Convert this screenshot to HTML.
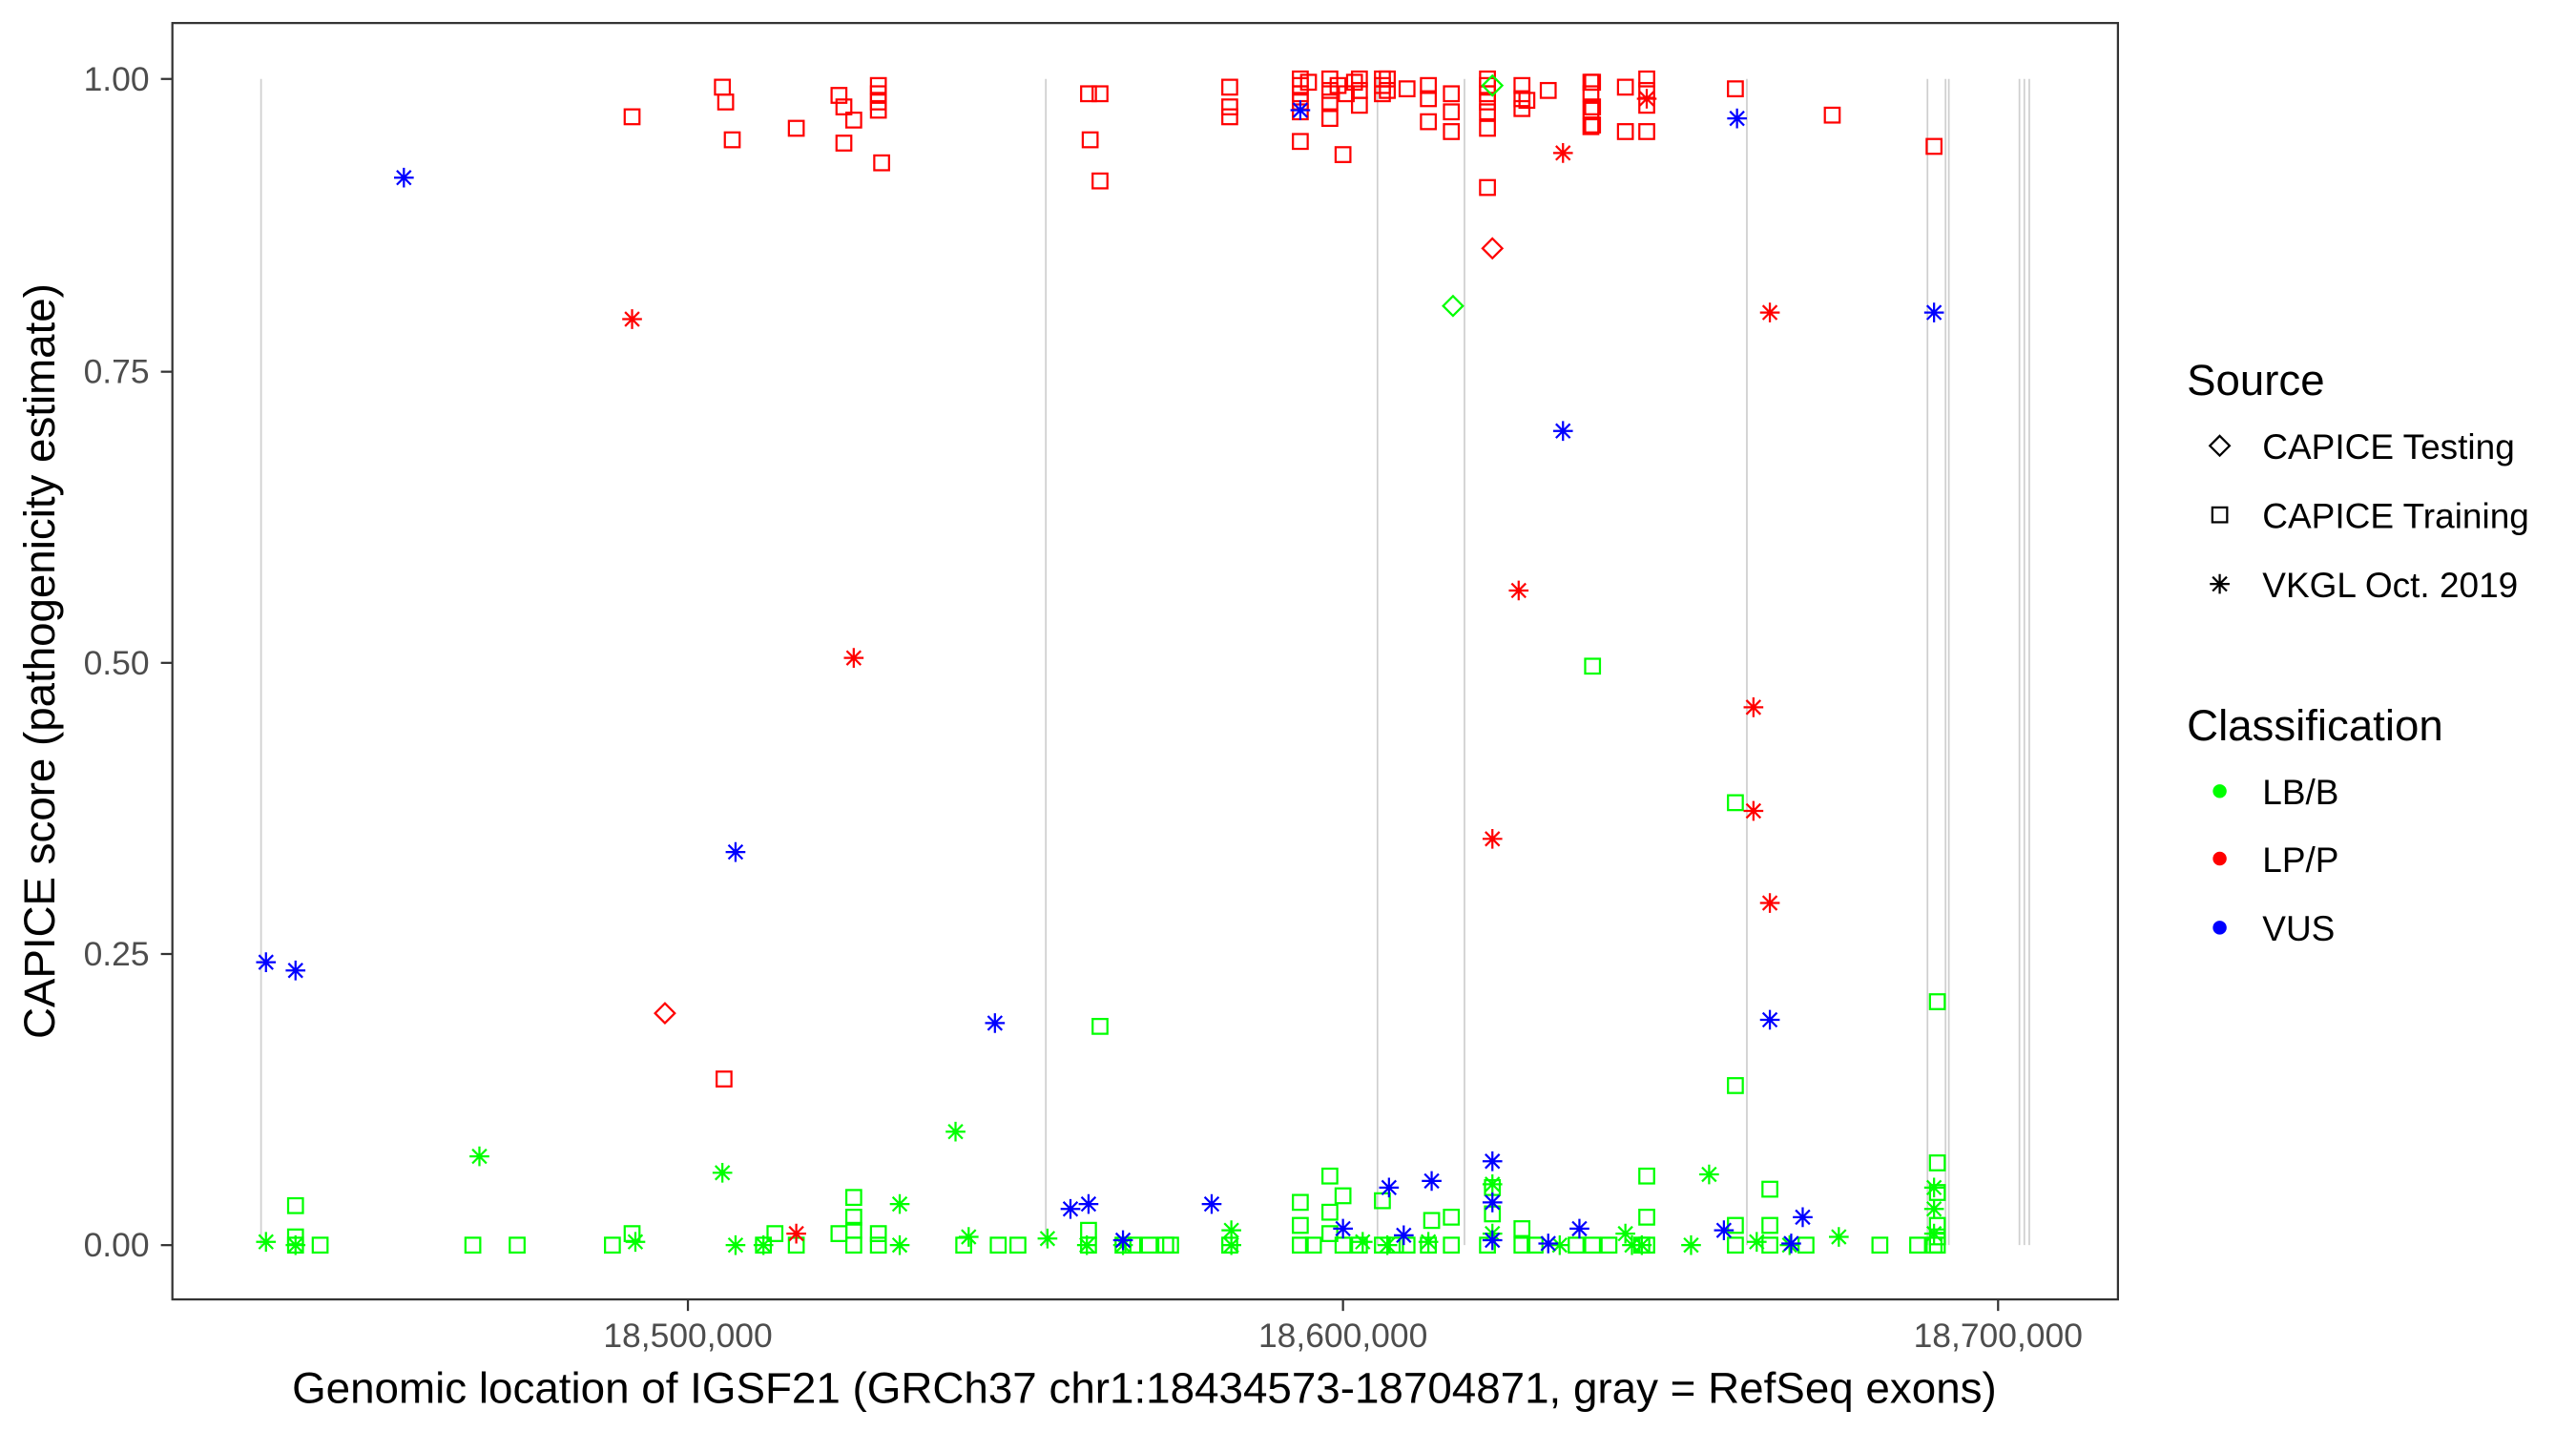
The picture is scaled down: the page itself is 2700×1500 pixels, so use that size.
<!DOCTYPE html>
<html><head><meta charset="utf-8"><style>html,body{margin:0;padding:0;background:#fff}svg{display:block}</style></head>
<body>
<svg id="s" width="2700" height="1500" viewBox="0 0 1569 870" preserveAspectRatio="none" xmlns="http://www.w3.org/2000/svg" font-family="Liberation Sans, Arial, sans-serif">
<rect x="0" y="0" width="1569" height="870" fill="#fff"/>
<g id="ex" stroke="#cfcfcf" stroke-width="1"></g>
<g id="pts" fill="none" stroke-width="1.3"></g>
<rect x="105" y="14" width="1185" height="776" fill="none" stroke="#333" stroke-width="1.3"/>
<g stroke="#333" stroke-width="1.3">
<line x1="98" y1="48" x2="105" y2="48"/><line x1="98" y1="226" x2="105" y2="226"/><line x1="98" y1="403" x2="105" y2="403"/><line x1="98" y1="580" x2="105" y2="580"/><line x1="98" y1="757" x2="105" y2="757"/>
<line x1="419" y1="790" x2="419" y2="797"/><line x1="818" y1="790" x2="818" y2="797"/><line x1="1217" y1="790" x2="1217" y2="797"/>
</g>
<g fill="#4d4d4d" font-size="20.6" text-anchor="end">
<text x="91" y="55">1.00</text><text x="91" y="233">0.75</text><text x="91" y="410">0.50</text><text x="91" y="587">0.25</text><text x="91" y="764">0.00</text>
</g>
<g fill="#4d4d4d" font-size="20.6" text-anchor="middle">
<text x="419" y="819">18,500,000</text><text x="818" y="819">18,600,000</text><text x="1217" y="819">18,700,000</text>
</g>
<text x="697" y="853" font-size="26.6" text-anchor="middle" fill="#000">Genomic location of IGSF21 (GRCh37 chr1:18434573-18704871, gray = RefSeq exons)</text>
<text transform="translate(33,402) rotate(-90)" font-size="26.5" text-anchor="middle" fill="#000">CAPICE score (pathogenicity estimate)</text>
<text x="1332" y="240" font-size="26.5" fill="#000">Source</text>
<text x="1378" y="279" font-size="21.5" fill="#000">CAPICE Testing</text>
<text x="1378" y="321" font-size="21.5" fill="#000">CAPICE Training</text>
<text x="1378" y="363" font-size="21.5" fill="#000">VKGL Oct. 2019</text>
<text x="1332" y="450" font-size="26.5" fill="#000">Classification</text>
<text x="1378" y="489" font-size="21.5" fill="#000">LB/B</text>
<text x="1378" y="530" font-size="21.5" fill="#000">LP/P</text>
<text x="1378" y="572" font-size="21.5" fill="#000">VUS</text>
<g id="leg" fill="none" stroke="#000" stroke-width="1.3"></g>
<circle cx="1352" cy="481" r="4.2" fill="#00ff00"/>
<circle cx="1352" cy="522" r="4.2" fill="#ff0000"/>
<circle cx="1352" cy="564" r="4.2" fill="#0000ff"/>
</svg>
<script>
var NS="http://www.w3.org/2000/svg";
function el(p,t,a){var e=document.createElementNS(NS,t);for(var k in a)e.setAttribute(k,a[k]);p.appendChild(e);return e;}
var ex=document.getElementById('ex');
[159,637,839,892,1064,1174,1185,1187,1230,1233,1236].forEach(function(x){el(ex,'line',{x1:x,y1:48,x2:x,y2:757});});
var P=document.getElementById('pts');
function sq(g,x,y,c){el(g,'rect',{x:x-4.5,y:y-4.5,width:9,height:9,stroke:c});}
function di(g,x,y,c){el(g,'path',{d:'M'+x+' '+(y-6)+'L'+(x+6)+' '+y+'L'+x+' '+(y+6)+'L'+(x-6)+' '+y+'Z',stroke:c});}
function as(g,x,y,c){var r=6,d=4.3;el(g,'path',{d:'M'+(x-r)+' '+y+'H'+(x+r)+'M'+x+' '+(y-r)+'V'+(y+r)+'M'+(x-d)+' '+(y-d)+'L'+(x+d)+' '+(y+d)+'M'+(x-d)+' '+(y+d)+'L'+(x+d)+' '+(y-d),stroke:c});}
var R='#ff0000',G='#00ff00',B='#0000ff';
var gsq=[[180,733],[180,752],[180,757],[195,757],[288,757],[315,757],[373,757],[385,750],[465,757],[472,750],[485,757],[511,750],[520,728],[520,740],[520,748],[520,757],[535,750],[535,757],[587,757],[608,757],[620,757],[663,748],[663,757],[670,624],[684,757],[690,757],[700,757],[710,757],[713,757],[749,757],[792,731],[792,745],[792,757],[800,757],[810,715],[810,737],[810,750],[818,727],[818,757],[828,757],[842,730],[842,757],[850,757],[857,757],[870,757],[872,742],[884,740],[884,757],[906,757],[909,722],[909,738],[927,747],[927,757],[935,757],[970,405],[970,757],[980,757],[1003,715],[1003,740],[1003,757],[1057,488],[1057,660],[1057,745],[1057,757],[1078,723],[1078,745],[1078,757],[1100,757],[1145,757],[1168,757],[1178,757],[1180,609],[1180,707],[1180,725],[1180,745],[1180,752],[1180,757],[1000,757],[960,757]];
gsq.forEach(function(p){sq(P,p[0],p[1],G);});
var rsq=[[385,71],[440,53],[442,62],[446,85],[485,78],[511,58],[514,65],[514,87],[520,73],[535,52],[535,57],[535,62],[535,67],[537,99],[663,57],[670,57],[664,85],[670,110],[749,53],[749,65],[749,71],[792,48],[792,52],[792,57],[792,62],[792,68],[792,86],[797,50],[810,48],[810,55],[810,62],[810,72],[818,94],[815,52],[820,57],[825,50],[828,48],[828,55],[828,64],[842,48],[842,52],[842,57],[870,52],[870,60],[870,74],[884,57],[884,68],[884,80],[906,48],[906,52],[906,57],[906,62],[906,68],[906,78],[906,114],[927,52],[927,60],[927,66],[943,55],[970,50],[970,65],[970,76],[990,53],[990,80],[1003,48],[1003,55],[1003,64],[1003,80],[1057,54],[1116,70],[1178,89],[441,656],[969,50],[969,67],[857,54],[845,48],[845,55],[930,61],[969,57],[969,77]];
rsq.forEach(function(p){sq(P,p[0],p[1],R);});
var gas=[[162,755],[180,757],[292,703],[387,755],[440,713],[448,757],[465,757],[548,732],[548,757],[582,688],[590,752],[638,753],[662,757],[684,757],[750,748],[750,757],[830,755],[845,757],[870,755],[909,720],[909,750],[950,757],[990,750],[1000,757],[1030,757],[1041,714],[1070,755],[1090,757],[1120,752],[1178,722],[1178,735],[1178,750],[994,757]];
gas.forEach(function(p){as(P,p[0],p[1],G);});
[[385,194],[520,400],[485,750],[925,359],[952,93],[909,510],[1068,430],[1068,493],[1078,549],[1078,190],[1003,60]].forEach(function(p){as(P,p[0],p[1],R);});
[[246,108],[162,585],[180,590],[448,518],[606,622],[652,735],[663,732],[684,754],[738,732],[792,67],[818,747],[846,722],[855,751],[872,718],[909,706],[909,731],[909,754],[943,756],[952,262],[962,747],[1050,748],[1058,72],[1078,620],[1091,756],[1098,740],[1178,190]].forEach(function(p){as(P,p[0],p[1],B);});
di(P,405,616,R);di(P,909,151,R);di(P,885,186,G);di(P,909,52,G);
var L=document.getElementById('leg');
di(L,1352,271,'#000');sq(L,1352,313,'#000');as(L,1352,355,'#000');
</script>
</body></html>
